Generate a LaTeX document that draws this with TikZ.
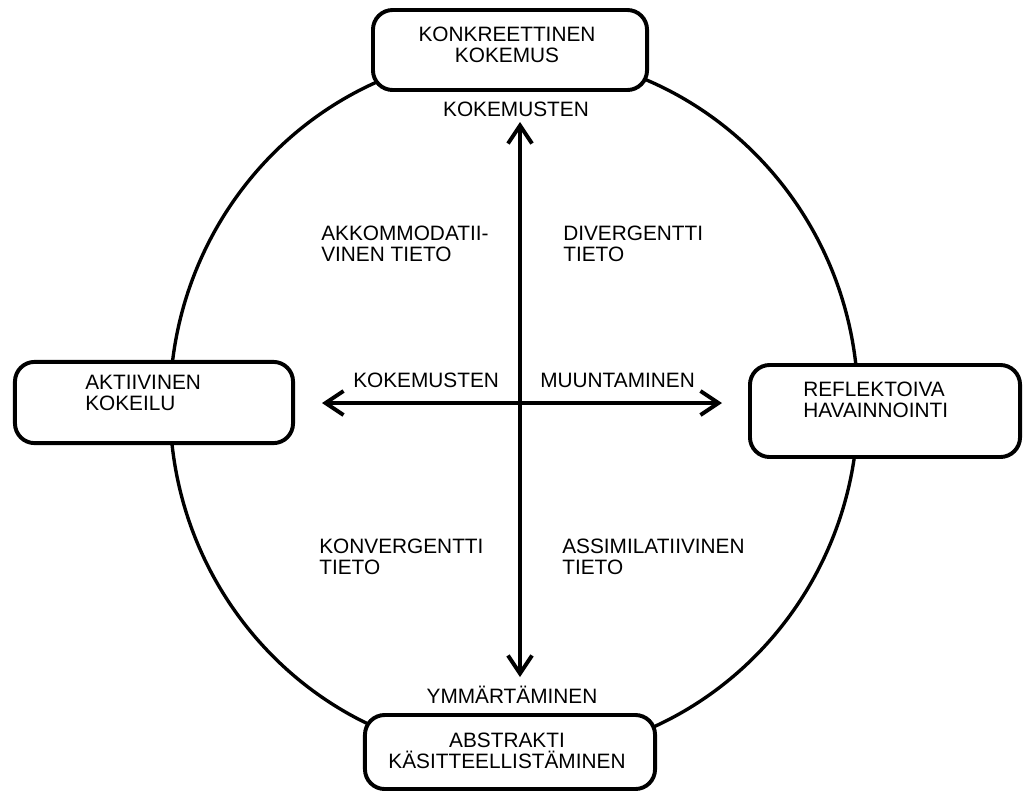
\documentclass[tikz,border=0pt]{standalone}
\usepackage{fontspec}
\setmainfont{Liberation Sans}
\usetikzlibrary{arrows.meta}
\tikzset{>={Straight Barb[length=4.5mm,width=6mm]}}
\tikzset{
  box/.style={draw,line width=2.8pt,rounded corners=14pt,fill=white,inner sep=0pt},
  txt/.style={inner sep=0pt,font=\fontsize{14.8}{14.9}\selectfont,align=left},
  flow/.style={line width=2.8pt,<->},
}

\begin{document}
\begin{tikzpicture}[x=0.025cm,y=-0.025cm]
  \useasboundingbox (0,0) rectangle (1024,791);
  % kehä
  \draw[line width=2.4pt] (514,405) ellipse [x radius=8.6cm, y radius=8.8cm];
  % nuolet
  \coordinate (vtop) at (520,122);
  \coordinate (vbot) at (520,677);
  \coordinate (hl) at (322,403);
  \coordinate (hr) at (722,403);
  \draw[flow] (vbot) -- (vtop);
  \draw[flow] (hl) -- (hr);
  % laatikot
  \node[box,minimum width=6.85cm,minimum height=2cm] (konkr) at (510,50) {};
  \node[box,minimum width=6.95cm,minimum height=2.03cm] (aktiiv) at (154,402.5) {};
  \node[box,minimum width=6.75cm,minimum height=2.3cm] (refl) at (885,411) {};
  \node[box,minimum width=7.25cm,minimum height=1.85cm] (abstr) at (510,752) {};
  \node[txt,align=center] (konkrtxt) at (507,45) {KONKREETTINEN\\KOKEMUS};
  \node[txt,anchor=west] (aktiivtxt) at (85,393) {AKTIIVINEN\\KOKEILU};
  \node[txt,anchor=west] (refltxt) at (803,400) {REFLEKTOIVA\\HAVAINNOINTI};
  \node[txt,align=center] (abstrtxt) at (507,751) {ABSTRAKTI\\KÄSITTEELLISTÄMINEN};
  % tekstit
  \node[txt] (kok1) at (516,109) {KOKEMUSTEN};
  \node[txt,anchor=west] (kok2) at (353,380) {KOKEMUSTEN};
  \node[txt,anchor=west] (muun) at (540,380) {MUUNTAMINEN};
  \node[txt] (ymm) at (512,695) {YMMÄRTÄMINEN};
  \node[txt,anchor=west] (akk) at (321,244) {AKKOMMODATII-\\VINEN TIETO};
  \node[txt,anchor=west] (div) at (563,244) {DIVERGENTTI\\TIETO};
  \node[txt,anchor=west] (konv) at (319,557) {KONVERGENTTI\\TIETO};
  \node[txt,anchor=west] (assim) at (562,557) {ASSIMILATIIVINEN\\TIETO};
\end{tikzpicture}
\end{document}
